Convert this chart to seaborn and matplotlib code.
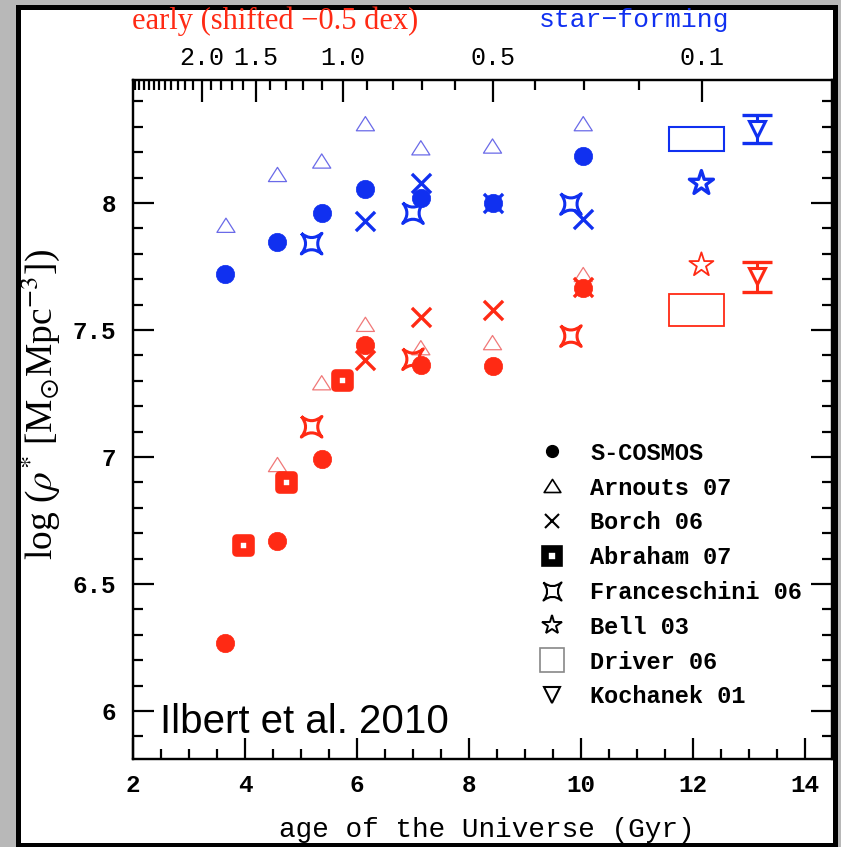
import numpy as np
import matplotlib
matplotlib.use("Agg")
import matplotlib.pyplot as plt
import seaborn as sns
from matplotlib.path import Path
from matplotlib.patches import Rectangle
from matplotlib.lines import Line2D

# ---------------- data (age in Gyr, log rho*) ----------------
sf_cosmos_age = [3.64, 4.58, 5.37, 6.15, 7.14, 8.42, 10.04]
sf_cosmos_val = [7.72, 7.845, 7.96, 8.054, 8.018, 8.00, 8.185]
sf_arnouts_age = [3.66, 4.58, 5.37, 6.15, 7.14, 8.42, 10.04]
sf_arnouts_val = [7.91, 8.11, 8.163, 8.31, 8.215, 8.222, 8.31]
sf_borch_age = [6.15, 7.14, 8.42, 10.04]
sf_borch_val = [7.93, 8.078, 8.00, 7.936]
sf_fran_age = [5.19, 7.00, 9.82]
sf_fran_val = [7.84, 7.96, 7.996]
sf_bell_age = [12.15]
sf_bell_val = [8.078]
sf_driver_age = [12.06]
sf_driver_val = [8.253]
sf_driver_dage = [0.49]
sf_driver_dval = [0.047]
sf_koch_age = [13.15]
sf_koch_val = [8.29]
sf_koch_lo = [8.235]
sf_koch_hi = [8.346]

early_cosmos_age = [3.65, 4.58, 5.37, 6.15, 7.14, 8.42, 10.04]
early_cosmos_val = [6.269, 6.67, 6.993, 7.44, 7.362, 7.358, 7.664]
early_arnouts_age = [4.58, 5.37, 6.15, 7.14, 8.42, 10.04]
early_arnouts_val = [6.968, 7.29, 7.52, 7.428, 7.448, 7.716]
early_borch_age = [6.15, 7.14, 8.42, 10.04]
early_borch_val = [7.382, 7.552, 7.579, 7.67]
early_abraham_age = [3.97, 4.73, 5.74]
early_abraham_val = [6.654, 6.903, 7.303]
early_fran_age = [5.19, 7.00, 9.82]
early_fran_val = [7.119, 7.385, 7.476]
early_bell_age = [12.15]
early_bell_val = [7.756]
early_driver_age = [12.06]
early_driver_val = [7.577]
early_driver_dage = [0.49]
early_driver_dval = [0.063]
early_koch_age = [13.15]
early_koch_val = [7.712]
early_koch_lo = [7.651]
early_koch_hi = [7.766]

legend_labels = ["S-COSMOS", "Arnouts 07", "Borch 06", "Abraham 07",
                 "Franceschini 06", "Bell 03", "Driver 06", "Kochanek 01"]
z_major = [2.0, 1.5, 1.0, 0.5, 0.1]
z_major_labels = ["2.0", "1.5", "1.0", "0.5", "0.1"]
z_minor = [0.2, 0.3, 0.4, 0.6, 0.7, 0.8, 0.9, 1.1, 1.2, 1.3, 1.4, 1.6, 1.7,
           1.8, 1.9, 2.1, 2.2, 2.3, 2.4, 2.5, 2.6, 2.7, 2.8, 2.9, 3.0, 3.1]
x_ticks = [2, 4, 6, 8, 10, 12, 14]
y_ticks = [6, 6.5, 7, 7.5, 8]
y_ticklabels = ["6", "6.5", "7", "7.5", "8"]

# ---------------- helpers ----------------
def age_of_z(z, H0=70.0, Om=0.3, OL=0.7):
    z = np.asarray(z, dtype=float)
    tH = 977.8 / H0
    return 2.0 / (3.0 * np.sqrt(OL)) * tH * np.arcsinh(np.sqrt(OL / Om) * (1 + z) ** -1.5)

def concave_star():
    k = 0.18
    verts = [(-1, 1), (0, k), (1, 1), (k, 0), (1, -1), (0, -k), (-1, -1), (-k, 0), (-1, 1)]
    codes = [Path.MOVETO, Path.CURVE3, Path.CURVE3, Path.CURVE3, Path.CURVE3,
             Path.CURVE3, Path.CURVE3, Path.CURVE3, Path.CURVE3]
    return Path(verts, codes)

FRAN = concave_star()
TRI = Path([(-1, -0.72), (1, -0.72), (0, 0.85), (-1, -0.72)],
           [Path.MOVETO, Path.LINETO, Path.LINETO, Path.CLOSEPOLY])

BLUE = "#1030f0"
RED = "#ff2a14"
BLUE_L = "#6a6ae8"
RED_L = "#f07878"

MONO = "Liberation Mono"
plt.rcParams["mathtext.fontset"] = "stix"

# ---------------- figure ----------------
fig = plt.figure(figsize=(8.41, 8.47), dpi=100)
fig.patch.set_facecolor("#b8b8b8")
panel = Rectangle((17.5 / 841, 2.5 / 847), (834.5 - 17.5) / 841, (847 - 7 - 2.5) / 847,
                  transform=fig.transFigure, facecolor="white", edgecolor="black",
                  linewidth=3.6, zorder=-5)
fig.patches.append(panel)

L, R, T, B = 133, 832, 80, 759
ax = fig.add_axes([L / 841, 1 - B / 847, (R - L) / 841, (B - T) / 847])
ax.set_facecolor("none")
ax.set_xlim(2, 2 + (R - L) / 56.0)
ax.set_ylim(6 - (B - 711) / 254.0, 8 + (203 - T) / 254.0)

def sc(x, y, **kw):
    sns.scatterplot(x=x, y=y, ax=ax, legend=False, **kw)

for (ag, vl, c_l, c, lwx, lwstar) in [
        (dict(ar=sf_arnouts_age, co=sf_cosmos_age, bo=sf_borch_age, fr=sf_fran_age, be=sf_bell_age),
         dict(ar=sf_arnouts_val, co=sf_cosmos_val, bo=sf_borch_val, fr=sf_fran_val, be=sf_bell_val),
         BLUE_L, BLUE, 2.4, 2.4),
        (dict(ar=early_arnouts_age, co=early_cosmos_age, bo=early_borch_age, fr=early_fran_age, be=early_bell_age),
         dict(ar=early_arnouts_val, co=early_cosmos_val, bo=early_borch_val, fr=early_fran_val, be=early_bell_val),
         RED_L, RED, 2.4, 1.3)]:
    sc(ag["ar"], vl["ar"], marker=TRI, s=170, facecolor="none", edgecolor=c_l, linewidth=0.9, zorder=3)
    sc(ag["bo"], vl["bo"], marker="x", s=190, color=c, linewidth=lwx, zorder=4)
    sc(ag["fr"], vl["fr"], marker=FRAN, s=220, facecolor="none", edgecolor=c, linewidth=2.2, zorder=4)
    sc(ag["be"], vl["be"], marker="*", s=330, facecolor="none", edgecolor=c, linewidth=lwstar, zorder=4)
    sc(ag["co"], vl["co"], marker="o", s=175, color=c, edgecolor=c, linewidth=0.5, zorder=5)

sc(early_abraham_age, early_abraham_val, marker="s", s=100, facecolor="white", edgecolor=RED,
   linewidth=6.2, zorder=5)

for a, v, da, dv, c, lw in [(sf_driver_age, sf_driver_val, sf_driver_dage, sf_driver_dval, BLUE, 1.5),
                            (early_driver_age, early_driver_val, early_driver_dage, early_driver_dval, RED, 1.3)]:
    for i in range(len(a)):
        ax.add_patch(Rectangle((a[i] - da[i], v[i] - dv[i]), 2 * da[i], 2 * dv[i],
                               facecolor="none", edgecolor=c, linewidth=lw, zorder=4))

for a, v, lo, hi, c in [(sf_koch_age, sf_koch_val, sf_koch_lo, sf_koch_hi, BLUE),
                        (early_koch_age, early_koch_val, early_koch_lo, early_koch_hi, RED)]:
    v = np.array(v); lo = np.array(lo); hi = np.array(hi)
    ax.errorbar(a, v, yerr=[v - lo, hi - v], fmt="none", ecolor=c, elinewidth=2.2,
                capsize=10.5, capthick=2.4, zorder=4)
    ax.plot(a, v, marker="v", ms=12, mfc="white", mec=c, mew=2.2, ls="none", zorder=5)

# ---------------- axes styling ----------------
for s in ax.spines.values():
    s.set_linewidth(1.6)
ax.set_xticks(x_ticks)
ax.set_xticks(np.arange(2.5, 14.5, 0.5), minor=True)
ax.set_yticks(y_ticks)
ax.set_yticklabels(y_ticklabels)
ax.set_yticks(np.arange(5.9, 8.45, 0.1), minor=True)
ax.tick_params(which="both", direction="in", top=False, right=True, width=1.6)
ax.tick_params(which="major", length=15)
ax.tick_params(which="minor", length=7)
ax.tick_params(axis="x", which="major", pad=11)
ax.tick_params(axis="y", which="major", pad=12)
for lab in ax.get_xticklabels() + ax.get_yticklabels():
    lab.set_fontfamily(MONO)
    lab.set_fontweight("bold")
    lab.set_fontsize(17.5)

ax2 = ax.twiny()
ax2.set_xlim(ax.get_xlim())
ax2.set_xticks(age_of_z(z_major))
ax2.set_xticklabels(z_major_labels)
ax2.set_xticks(age_of_z(z_minor), minor=True)
ax2.tick_params(which="both", direction="in", width=1.6, pad=7)
ax2.tick_params(which="major", length=16)
ax2.tick_params(which="minor", length=7)
for s in ax2.spines.values():
    s.set_linewidth(1.6)
for lab in ax2.get_xticklabels():
    lab.set_fontfamily(MONO)
    lab.set_fontsize(18)

# ---------------- legend ----------------
h = [
    Line2D([], [], marker="o", ms=8.5, color="black", ls="none"),
    Line2D([], [], marker=TRI, ms=12, mfc="none", mec="black", mew=1.2, ls="none"),
    Line2D([], [], marker="x", ms=10, color="black", mew=1.5, ls="none"),
    Line2D([], [], marker="s", ms=10, mfc="white", mec="black", mew=5.5, ls="none"),
    Line2D([], [], marker=FRAN, ms=13, mfc="none", mec="black", mew=1.5, ls="none"),
    Line2D([], [], marker="*", ms=15, mfc="none", mec="black", mew=1.4, ls="none"),
    Line2D([], [], marker="s", ms=17, mfc="none", mec="#888888", mew=1.2, ls="none"),
    Line2D([], [], marker="v", ms=11, mfc="none", mec="black", mew=1.5, ls="none"),
]
leg = ax.legend(h, legend_labels, loc="upper left",
                bbox_to_anchor=((540.2 - L) / (R - L), (B - 441.7) / (B - T)),
                frameon=False, borderpad=0, borderaxespad=0, handlelength=1.0,
                handletextpad=1.11, labelspacing=0.5, numpoints=1,
                prop=dict(family=MONO, size=17, weight="bold"))

ax.text(0.039, (B - 733) / (B - T), "Ilbert et al. 2010", transform=ax.transAxes,
        fontfamily="Liberation Sans", fontsize=29, va="baseline", ha="left", zorder=6)

# ---------------- labels ----------------
fig.text(487 / 841, 1 - 830 / 847, "age of the Universe (Gyr)", fontfamily=MONO,
         fontsize=20, ha="center", va="center")
fig.text(40 / 841, 1 - 405 / 847, r"log ($\rho^{*}$ [M$_{\odot}$Mpc$^{-3}$])",
         fontfamily="Liberation Serif", fontsize=27, rotation=90, ha="center", va="center")
fig.text(275 / 841, 1 - 21 / 847, "early (shifted \u22120.5 dex)", color=RED,
         fontfamily="Liberation Serif", fontsize=22, ha="center", va="center")
fig.text(634 / 841, 1 - 20 / 847, "star\u2212forming", color=BLUE,
         fontfamily=MONO, fontsize=19, ha="center", va="center")

fig.savefig("out.png", dpi=100, facecolor=fig.get_facecolor())
